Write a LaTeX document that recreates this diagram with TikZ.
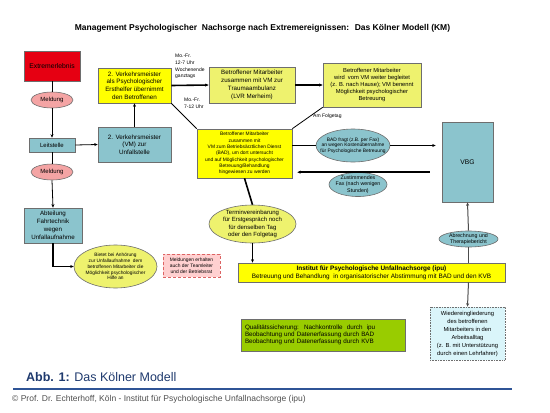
\documentclass[tikz,border=0pt]{standalone}
\usepackage{fontspec}
\setmainfont{Liberation Sans}
\usetikzlibrary{shapes.geometric,arrows.meta}
\definecolor{extremred}{RGB}{230,0,18}
\definecolor{meldpink}{RGB}{244,164,164}
\definecolor{vbgteal}{RGB}{139,196,205}
\definecolor{boxyellow}{RGB}{255,255,0}
\definecolor{paleyellow}{RGB}{238,242,110}
\definecolor{qualgreen}{RGB}{153,204,0}
\definecolor{wiedercyan}{RGB}{218,245,250}
\definecolor{notepink}{RGB}{255,208,208}
\definecolor{noteframe}{RGB}{220,100,100}
\definecolor{framegray}{RGB}{110,110,110}
\definecolor{abbblue}{RGB}{31,58,110}
\definecolor{ruleblue}{RGB}{47,84,150}
\definecolor{copygray}{RGB}{80,80,80}
\newcommand{\fsz}[2]{\fontsize{#1}{#2}\selectfont}

\begin{document}
\begin{tikzpicture}[x=1pt,y=-1pt,
  box/.style={draw=framegray,line width=0.6pt,align=center,inner sep=0pt},
  oval/.style={ellipse,draw=framegray,line width=0.6pt,align=center,inner sep=0pt},
  wire/.style={draw=black,line width=0.8pt},
  heavy/.style={draw=black,line width=1.6pt},
  grayline/.style={draw=black!70,line width=1pt},
  >={Stealth[length=3.5pt,width=3pt]}]
\useasboundingbox[fill=white] (0,0) rectangle (550,413);
% Title
\node[font=\fsz{8.5}{10}\bfseries] (title) at (262.5,28.5) {Management Psychologischer~ Nachsorge nach Extremereignissen:~ Das K\"olner Modell (KM)};
% Drawing boxes
% Left column: Extremerlebnis - Leitstelle - Fahrtechnik
\node[box,fill=extremred,minimum width=56,minimum height=30,font=\fsz{6.8}{8}] (extrem) at (52,66) {Extremerlebnis};
\node[oval,fill=meldpink,minimum width=42,minimum height=16,font=\fsz{6}{7}] (meld1) at (52,100) {Meldung};
\node[box,fill=vbgteal,minimum width=46,minimum height=14,font=\fsz{6}{7}] (leit) at (52,145) {Leitstelle};
\node[oval,fill=meldpink,minimum width=42,minimum height=16,font=\fsz{6}{7}] (meld2) at (52,172) {Meldung};
\node[box,fill=vbgteal,minimum width=58,minimum height=35,font=\fsz{6.2}{8}] (abteil) at (53,225.5) {Abteilung\\Fahrtechnik\\wegen\\Unfallaufnahme};
\node[oval,fill=paleyellow,minimum width=83,minimum height=43,inner xsep=-4pt,font=\fsz{4.8}{5.8}] (bietet) at (115.5,266.5) {Bietet bei Anh\"orung\\zur Unfallaufnahme~ dem\\betroffenen Mitarbeiter die\\M\"oglichkeit psychologischer\\Hilfe an};
\node[box,draw=noteframe,densely dashed,fill=notepink,minimum width=57,minimum height=23,font=\fsz{4.9}{6.2}] (meldungen) at (191.5,265.5) {Meldungen erhalten\\auch der Teamleiter\\und der Betriebsrat};
% Verkehrsmeister column
\node[box,fill=boxyellow,minimum width=73,minimum height=35,font=\fsz{6.3}{7.7}] (vm1) at (134.5,85.5) {2. Verkehrsmeister\\als Psychologischer\\Ersthelfer \"ubernimmt\\den Betroffenen};
\node[box,fill=vbgteal,minimum width=73,minimum height=35,font=\fsz{6.3}{7.6}] (vm2) at (134.5,144.5) {2. Verkehrsmeister\\(VM) zur\\Unfallstelle};
% Top row
\node[box,fill=paleyellow,minimum width=86,minimum height=36,font=\fsz{6.2}{7.8}] (trauma) at (252,85) {Betroffener Mitarbeiter\\zusammen mit VM zur\\Traumaambulanz\\(LVR Merheim)};
\node[box,fill=paleyellow,minimum width=98,minimum height=44,font=\fsz{5.8}{7}] (begleit) at (372,85) {Betroffener Mitarbeiter\\wird~ vom VM weiter begleitet\\(z. B. nach Hause); VM benennt\\M\"oglichkeit psychologischer\\Betreuung};
% Middle: BAD and VBG
\node[box,fill=boxyellow,minimum width=95,minimum height=49,font=\fsz{4.9}{6.3}] (bad) at (244.5,153.5) {Betroffener Mitarbeiter\\zusammen mit\\VM zum Betriebs\"arztlichen Dienst\\(BAD), um dort untersucht\\und auf M\"oglichkeit psychologischer\\Betreuung/Behandlung\\hingewiesen zu werden};
\node[oval,fill=vbgteal,minimum width=74,minimum height=33,inner xsep=-6.5pt,font=\fsz{4.9}{5.7}] (badfragt) at (353,145.5) {BAD fragt (z.B. per Fax)\\an wegen Kosten\"ubernahme\\f\"ur Psychologische Betreuung};
\node[oval,fill=vbgteal,minimum width=58,minimum height=24,inner xsep=-5.5pt,inner ysep=-1.5pt,font=\fsz{5.3}{6.3}] (fax) at (358,184.5) {Zustimmendes\\Fax (nach wenigen\\Stunden)};
\node[box,fill=vbgteal,minimum width=51,minimum height=80,font=\fsz{6.7}{8}] (vbg) at (467.5,162) {VBG};
\node[oval,fill=vbgteal,minimum width=59,minimum height=16,inner sep=-1.5pt,font=\fsz{5.3}{6}] (abrech) at (468.5,239) {Abrechnung und\\Therapiebericht};
\node[oval,fill=paleyellow,minimum width=87,minimum height=38,inner sep=-1.5pt,font=\fsz{6}{7.2}] (termin) at (252.5,224) {Terminvereinbarung\\f\"ur Erstgespr\"ach noch\\f\"ur denselben Tag\\oder den Folgetag};
% Bottom row: ipu, Qualitaet, Wiedereingliederung
\node[box,fill=boxyellow,minimum width=267,minimum height=19,font=\fsz{6.4}{7.7}] (institut) at (371.5,272.5) {\textbf{Institut f\"ur Psychologische Unfallnachsorge (ipu)}\\Betreuung und Behandlung~ in organisatorischer Abstimmung mit BAD und den KVB};
\node[box,fill=qualgreen,minimum width=164,minimum height=32,text width=156,align=left,font=\fsz{6.3}{7.3}] (quali) at (323,335) {Qualit\"atssicherung:~ Nachkontrolle~ durch~ ipu\\Beobachtung und Datenerfassung durch BAD\\Beobachtung und Datenerfassung durch KVB};
\node[box,densely dotted,fill=wiedercyan,minimum width=75,minimum height=53,font=\fsz{5.8}{8}] (wieder) at (467.5,333.5) {Wiedereingliederung\\des betroffenen\\Mitarbeiters in den\\Arbeitsalltag\\(z. B. mit Unterst\"utzung\\durch einen Lehrfahrer)};
% Labels on the connectors
\node[anchor=north west,align=left,inner sep=0pt,font=\fsz{5}{6.7}] (wochen) at (175,54) {Mo.-Fr.\\12-7 Uhr\\Wochenende\\ganztags};
\node[anchor=north west,align=left,inner sep=0pt,font=\fsz{5}{6.7}] (frueh) at (184,98) {Mo.-Fr.\\7-12 Uhr};
\node[anchor=west,inner sep=0pt,font=\fsz{5}{6}] (folgetag) at (313,116) {Am Folgetag};
% Done with boxes; drawing connectors
\draw[wire] (extrem.south) -- (meld1.north);
\draw[wire,->] (meld1.south) -- (leit.north);
\draw[wire] (leit.south) -- (meld2.north);
\draw[wire,->] (meld2.south) -- (abteil.north);
\draw[heavy,->] (abteil.south) |- (bietet.west);
\draw[wire,->] (leit.east) -- (vm2.west);
\draw[wire,->] (vm2.north) -- (vm1.south);
\draw[heavy,->] (vm1.east) -- (trauma.west);
\draw[heavy,->] (trauma.east) -- (begleit.west);
\draw[wire] (vm1.south east) -- (bad.north west);
\draw[wire] (begleit.south west) -- (bad.north east);
% BAD <-> VBG
\draw[heavy] (bad.east |- badfragt.center) -- (badfragt.west);
\draw[heavy,->,shorten >=6pt] (badfragt.east) -- (vbg.west |- badfragt.center);
\draw[heavy,->,shorten <=12pt,shorten >=5pt] (vbg.west |- fax.north) -- (bad.east |- fax.north);
\draw[heavy] (bad.south) -- (termin.north);
\draw[wire,->] (termin.south) -- (termin.south |- institut.north);
% VBG - ipu - Wiedereingliederung
\draw[grayline,->] (abrech.north) -- (vbg.south);
\draw[grayline] (abrech.south) -- (abrech.south |- institut.north);
\draw[grayline,->] (abrech.south |- institut.south) -- (wieder.north);
% Done with connectors; drawing caption
\node[anchor=west,inner sep=0pt,text=abbblue,font=\fsz{12.5}{14}] (abb) at (26,377) {\textbf{Abb. 1:} Das K\"olner Modell};
\draw[ruleblue,line width=1.5pt] (13,389) -- (512,389);
\node[anchor=west,inner sep=0pt,text=copygray,font=\fsz{8.5}{10}] (copyright) at (12,399) {\textcopyright{} Prof. Dr. Echterhoff, K\"oln - Institut f\"ur Psychologische Unfallnachsorge (ipu)};
\end{tikzpicture}
\end{document}
